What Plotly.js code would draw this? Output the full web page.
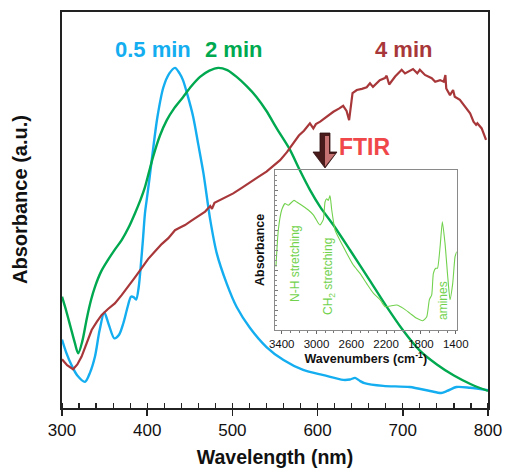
<!DOCTYPE html>
<html>
<head>
<meta charset="utf-8">
<script src="https://cdn.plot.ly/plotly-3.0.1.min.js"></script>
<style>html,body{margin:0;padding:0;background:#fff;}#chart{width:505px;height:468px;}</style>
</head>
<body>
<div id="chart"></div>
<script>
// UV-Vis spectra (wavelength in nm, absorbance a.u.)
const blueWl = [300,305,311,318,327,333,338.7,344,349.6,355,361.4,367,372,377,381,384,387,390,392.7,395,397.4,400,403,407,412,419,426,432.6,438,442,448,454,460,466,474,481.6,493,505,520.7,540,560,583,607,630,638,644,650,655,677,708,732,745,752,763,779,800];
const blueAbs = [17.3,14.0,10.9,8.2,6.6,9.0,13.0,19.5,24.1,21.0,17.6,18.5,21.4,25.5,28.1,28.0,27.4,30.5,36.5,42.5,49.2,53.5,58.5,65.5,73.5,81.0,84.5,85.9,84.5,82.8,78.5,73.5,66.5,59.3,47.5,39.1,31.6,25.5,20.2,15.4,12.1,9.6,8.3,7.1,7.2,7.6,6.8,6.3,5.6,5.3,4.3,3.8,4.3,5.3,5.1,4.5];

const greenWl = [300,305,310,315,319,324,329,334,338.7,346,354,362,370,378,385.7,392,397,402,407,415,423,432,442,452,462,473,483.5,494,505,517,528.5,540,552,567.6,579,591,603,618.5,638,661,681,700,720,740,760,780,800];
const greenAbs = [28.1,24.5,20.5,16.5,13.8,17.0,22.5,27.2,30.6,34.5,37.4,40.0,42.4,45.5,49.2,52.5,55.5,59.5,63.5,68.8,72.7,75.8,78.5,81.3,83.6,85.2,85.9,85.3,83.6,81.2,78.5,75.0,70.6,65.2,60.1,55.1,50.8,46.2,39.9,32.3,25.6,19.7,14.5,11.0,8.2,6.0,4.3];

const redWl = [300,306,313,318,323,329,334.8,341,346.6,354,362,370,377.8,385,393.5,401,409,417,424.8,432.6,438,444.4,452,462,468,474,476,479,490,501,511,521,530,540,548,556,564,571.5,578,584,591,595,598,603,611,618.5,625,630,634,637,641,646,652,657.6,661.5,665,673,679,681,684,691,698.7,702.6,708.5,712,717,720,726,734,738,743.8,748,750,751,755.4,759,761,767,773,779,783,786,787.5,792.6,797.7];
const redAbs = [12.3,10.8,9.8,11.0,13.0,16.5,19.7,21.8,23.5,25.0,26.4,28.5,30.6,32.8,35.3,37.6,39.5,41.4,42.9,44.9,45.5,46.2,47.3,48.7,49.6,51.0,50.3,51.8,53.0,54.2,55.6,57.1,58.3,59.7,61.2,62.6,64.6,66.8,68.8,70.0,71.9,70.6,71.7,72.3,73.6,74.8,75.6,76.3,75.0,72.7,79.5,80.3,80.6,81.0,82.0,81.1,82.8,83.3,83.9,81.7,83.7,85.4,84.5,85.1,85.6,84.5,85.4,84.1,83.3,82.4,82.8,82.4,84.1,80.7,79.0,80.3,78.6,77.8,76.1,74.4,72.3,71.5,71.9,70.6,67.7];

// FTIR inset spectrum (wavenumber cm-1, absorbance a.u.)
const ftirWn = [3466,3439,3400,3362,3324,3259,3228,3170,3094,3037,2979,2960,2922,2902,2883,2864,2845,2825,2787,2730,2653,2577,2500,2423,2347,2270,2213,2155,2078,2002,1925,1848,1779,1733,1703,1676,1657,1630,1610,1580,1554,1523,1492,1466,1435,1408,1389];
const ftirAbs = [0.396,0.625,0.75,0.79,0.78,0.81,0.80,0.78,0.75,0.72,0.667,0.656,0.69,0.80,0.82,0.81,0.84,0.75,0.625,0.56,0.48,0.406,0.354,0.29,0.23,0.19,0.146,0.15,0.156,0.135,0.104,0.073,0.058,0.083,0.19,0.22,0.354,0.386,0.386,0.52,0.677,0.54,0.333,0.19,0.29,0.458,0.49];

const seriesNames = ['0.5 min','2 min','4 min'];
const xTicks = [300,400,500,600,700,800];
const insetTicks = [3400,3000,2600,2200,1800,1400];

const FONT = 'Arial, "Liberation Sans", Helvetica, sans-serif';
const cBlue = '#14aef0', cGreen = '#00a94f', cRed = '#a8373a', cFtir = '#72d24e';

const traces = [
  {x: blueWl, y: blueAbs, name: seriesNames[0], mode: 'lines', line: {color: cBlue, width: 2.4, shape: 'spline', smoothing: 0.8}, xaxis: 'x', yaxis: 'y'},
  {x: greenWl, y: greenAbs, name: seriesNames[1], mode: 'lines', line: {color: cGreen, width: 2.4, shape: 'spline', smoothing: 0.8}, xaxis: 'x', yaxis: 'y'},
  {x: redWl, y: redAbs, name: seriesNames[2], mode: 'lines', line: {color: cRed, width: 2.2}, xaxis: 'x', yaxis: 'y'},
  {x: ftirWn, y: ftirAbs, name: 'FTIR', mode: 'lines', line: {color: cFtir, width: 1.1, shape: 'spline', smoothing: 0.5}, xaxis: 'x2', yaxis: 'y2'}
];

function px2x(p){ return (p - 62) / 426; }
function py2y(p){ return (408 - p) / 396; }
function arrowPath(pts){ return 'M ' + pts.map(p => px2x(p[0]).toFixed(4) + ' ' + py2y(p[1]).toFixed(4)).join(' L ') + ' Z'; }

const layout = {
  width: 505, height: 468,
  margin: {l: 62, r: 17, t: 12, b: 60},
  paper_bgcolor: '#ffffff',
  plot_bgcolor: 'rgba(0,0,0,0)',
  showlegend: false,
  font: {family: FONT, color: '#000'},
  xaxis: {
    domain: [0, 1], range: [300, 800],
    tickvals: xTicks, ticktext: xTicks.map(String),
    ticks: 'outside', ticklen: 6, tickwidth: 1.5, tickcolor: '#222',
    minor: {dtick: 20, ticks: 'inside', ticklen: 5, tickwidth: 1.2, tickcolor: '#222'},
    showline: true, linecolor: '#222', linewidth: 1.6, mirror: true,
    showgrid: false, zeroline: false,
    tickfont: {size: 17, family: FONT, color: '#111'},
    title: {text: '<b>Wavelength (nm)</b>', font: {size: 19.5, family: FONT, color: '#111'}, standoff: 15},
    automargin: false
  },
  yaxis: {
    domain: [0, 1], range: [0, 100],
    showticklabels: false, ticks: '',
    showline: true, linecolor: '#222', linewidth: 1.6, mirror: true,
    showgrid: false, zeroline: false, automargin: false
  },
  xaxis2: {
    domain: [px2x(275), px2x(456.7)], anchor: 'y2',
    range: [3477, 1389],
    tickvals: insetTicks, ticktext: insetTicks.map(String),
    ticks: 'outside', ticklen: 3, tickwidth: 1, tickcolor: '#666',
    minor: {dtick: 100, ticks: 'outside', ticklen: 2, tickwidth: 1, tickcolor: '#777'},
    showline: true, linecolor: '#8a8a8a', linewidth: 1, mirror: true,
    showgrid: false, zeroline: false,
    tickfont: {size: 11.5, family: FONT, color: '#111'},
    title: {text: '<b>Wavenumbers (cm<sup>-1</sup>)</b>', font: {size: 12.5, family: FONT, color: '#111'}, standoff: 4},
    automargin: false
  },
  yaxis2: {
    domain: [py2y(330), py2y(170)], anchor: 'x2',
    range: [0, 1],
    showticklabels: false,
    ticks: 'inside', ticklen: 3, tickwidth: 1, tickcolor: '#777', dtick: 0.125,
    minor: {dtick: 0.03125, ticks: 'inside', ticklen: 1.5, tickwidth: 1, tickcolor: '#888'},
    showline: true, linecolor: '#8a8a8a', linewidth: 1, mirror: true,
    showgrid: false, zeroline: false, automargin: false
  },
  shapes: [
    {type: 'path', xref: 'paper', yref: 'paper', layer: 'above',
     path: arrowPath([[320,133],[330,133],[330,152],[337,152],[325,168],[313,152],[320,152]]),
     fillcolor: '#4a1b1b', line: {color: '#2e1010', width: 0.8}},
    {type: 'path', xref: 'paper', yref: 'paper', layer: 'above',
     path: arrowPath([[325,136],[329,136],[329,154],[335,154],[325,166.5]]),
     fillcolor: 'rgba(222,130,130,0.85)', line: {width: 0}}
  ],
  annotations: [
    {text: '<b>Absorbance (a.u.)</b>', xref: 'paper', yref: 'paper', x: px2x(20), y: py2y(200), textangle: -90,
     showarrow: false, xanchor: 'center', yanchor: 'middle', font: {size: 20, family: FONT, color: '#111'}},
    {text: '<b>' + seriesNames[0] + '</b>', xref: 'paper', yref: 'paper', x: px2x(152.5), y: py2y(50),
     showarrow: false, xanchor: 'center', yanchor: 'middle', font: {size: 22, family: FONT, color: cBlue}},
    {text: '<b>' + seriesNames[1] + '</b>', xref: 'paper', yref: 'paper', x: px2x(233), y: py2y(50),
     showarrow: false, xanchor: 'center', yanchor: 'middle', font: {size: 22, family: FONT, color: cGreen}},
    {text: '<b>' + seriesNames[2] + '</b>', xref: 'paper', yref: 'paper', x: px2x(403), y: py2y(50),
     showarrow: false, xanchor: 'center', yanchor: 'middle', font: {size: 22, family: FONT, color: cRed}},
    {text: '<b>FTIR</b>', xref: 'paper', yref: 'paper', x: px2x(364), y: py2y(147),
     showarrow: false, xanchor: 'center', yanchor: 'middle', font: {size: 23, family: FONT, color: '#f0484a'}},
    {text: '<b>Absorbance</b>', xref: 'paper', yref: 'paper', x: px2x(260), y: py2y(250), textangle: -90,
     showarrow: false, xanchor: 'center', yanchor: 'middle', font: {size: 12.5, family: FONT, color: '#111'}},
    {text: 'N-H stretching', xref: 'paper', yref: 'paper', x: px2x(295), y: py2y(264), textangle: -90,
     showarrow: false, xanchor: 'center', yanchor: 'middle', font: {size: 12, family: FONT, color: cFtir}},
    {text: 'CH<sub>2</sub> stretching', xref: 'paper', yref: 'paper', x: px2x(329), y: py2y(277), textangle: -90,
     showarrow: false, xanchor: 'center', yanchor: 'middle', font: {size: 12, family: FONT, color: cFtir}},
    {text: 'amines', xref: 'paper', yref: 'paper', x: px2x(443), y: py2y(301), textangle: -90,
     showarrow: false, xanchor: 'center', yanchor: 'middle', font: {size: 12, family: FONT, color: cFtir}}
  ]
};

Plotly.newPlot('chart', traces, layout, {staticPlot: true, displayModeBar: false});
</script>
</body>
</html>
